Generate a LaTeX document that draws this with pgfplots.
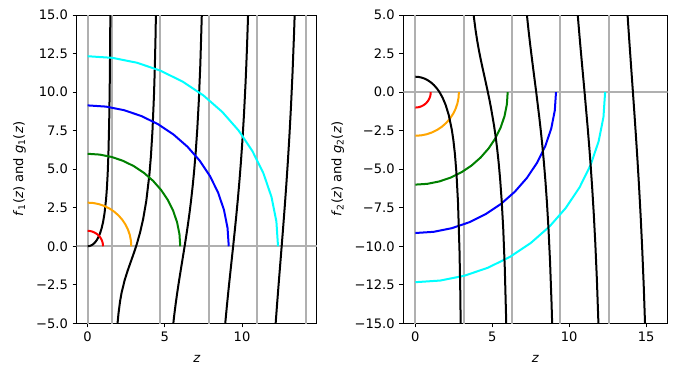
\documentclass[border=0pt]{standalone}
\usepackage{fontspec}
\setmainfont{DejaVu Sans}
\usepackage{pgfplots}
\pgfplotsset{compat=1.18}
\definecolor{gline}{RGB}{176,176,176}
\definecolor{mred}{RGB}{255,0,0}
\definecolor{morange}{RGB}{255,165,0}
\definecolor{mgreen}{RGB}{0,128,0}
\definecolor{mblue}{RGB}{0,0,255}
\definecolor{mcyan}{RGB}{0,255,255}
\pgfplotsset{
  myaxis/.style={
    scale only axis, anchor=south west,
    height=231.2pt,
    axis line style={line width=0.7pt},
    tick align=outside, xtick pos=bottom, ytick pos=left,
    major tick length=3pt,
    every tick/.style={black, line width=0.7pt},
    tick label style={font=\fontsize{9.8}{11}\selectfont},
    label style={font=\fontsize{9.8}{11}\selectfont},
    xlabel={\textit{z}},
    xlabel style={yshift=-3.5pt},
    ylabel style={yshift=1pt},
    every axis plot/.append style={line width=1.5pt},
    /pgf/number format/assume math mode=true,
  }
}
\begin{document}
\begin{tikzpicture}
\path[use as bounding box] (0,0) rectangle (507.75pt,282pt);
% ---------------- left panel
\begin{axis}[myaxis, at={(57.5pt,39.5pt)}, width=180.2pt,
  xmin=-0.707, xmax=14.85, ymin=-5, ymax=15,
  xtick={0,5,10}, xticklabels={0,5,10},
  ytick={-5,-2.5,0,2.5,5,7.5,10,12.5,15},
  yticklabels={−5.0,−2.5,0.0,2.5,5.0,7.5,10.0,12.5,15.0},
  ylabel={\textit{f}\textsubscript{1}(\textit{z}) and \textit{g}\textsubscript{1}(\textit{z})}]
\addplot[gline] coordinates {(0,-6) (0,16)};
\addplot[gline] coordinates {(1.570796,-6) (1.570796,16)};
\addplot[gline] coordinates {(4.712389,-6) (4.712389,16)};
\addplot[gline] coordinates {(7.853982,-6) (7.853982,16)};
\addplot[gline] coordinates {(10.995574,-6) (10.995574,16)};
\addplot[gline] coordinates {(14.137167,-6) (14.137167,16)};
\addplot[gline] coordinates {(-1,0) (16,0)};
% black: z tan z
\addplot[black] coordinates {(0,0) (0.1,0.01003) (0.2,0.04054) (0.3,0.0928) (0.4,0.16912) (0.5,0.27315) (0.6,0.41048) (0.7,0.5896) (0.8,0.82371) (0.9,1.13414) (1.0,1.55741) (1.1,2.16124) (1.2,3.08658) (1.25,3.76196) (1.3,4.68273) (1.35,6.01455) (1.4,8.11703) (1.43,10.089) (1.45,11.945) (1.47,14.534) (1.48,16.255)};
\addplot[black] coordinates {(1.85,-6.4529) (1.9,-5.5615) (1.95,-4.8935) (2.0,-4.37008) (2.1,-3.59068) (2.2,-3.0224) (2.4,-2.19843) (2.6,-1.56416) (2.8,-0.99548) (3.0,-0.42764) (3.14159,0) (3.2,0.18709) (3.4,0.89868) (3.6,1.77648) (3.8,2.93951) (4.0,4.63128) (4.1,5.83647) (4.2,7.46668) (4.3,9.82916) (4.35,11.4736) (4.4,13.6238) (4.45,16.5685)};
\addplot[black] coordinates {(5.4,-6.5748) (5.5,-5.4757) (5.6,-4.5581) (5.7,-3.7605) (5.8,-3.0431) (5.9,-2.3783) (6.0,-1.74604) (6.1,-1.1301) (6.2,-0.51694) (6.283185,0) (6.4,0.75104) (6.5,1.4318) (6.6,2.16387) (6.7,2.9665) (6.8,3.8647) (6.9,4.8928) (7.0,6.10014) (7.1,7.5607) (7.2,9.3932) (7.3,11.8009) (7.4,15.1642) (7.45,17.2658)};
\addplot[black] coordinates {(8.724778,-7.3488) (8.824778,-6.0374) (8.924778,-4.8756) (9.024778,-3.8156) (9.124778,-2.8226) (9.224778,-1.8700) (9.324778,-0.9356) (9.424778,0) (9.524778,0.95567) (9.624778,1.9510) (9.724778,3.0082) (9.824778,4.1538) (9.924778,5.4219) (10.024778,6.8583) (10.124778,8.5280) (10.224778,10.5278) (10.274778,11.6961) (10.324778,13.0108) (10.374778,14.5077) (10.424778,16.2356)};
\addplot[black] coordinates {(11.966371,-8.1866) (12.066371,-6.5919) (12.166371,-5.1439) (12.266371,-3.7944) (12.366371,-2.5068) (12.466371,-1.2508) (12.566371,0) (12.666371,1.2709) (12.766371,2.5879) (12.866371,3.9800) (12.966371,5.4821) (13.066371,7.1382) (13.166371,9.0076) (13.266371,11.1741) (13.366371,13.7625) (13.416371,15.2723) (13.466371,16.9697)};
% circles
\addplot[mred] coordinates {(1,0) (0.9914,0.1305) (0.9659,0.2588) (0.9239,0.3827) (0.8660,0.5) (0.7934,0.6088) (0.7071,0.7071) (0.6088,0.7934) (0.5,0.8660) (0.3827,0.9239) (0.2588,0.9659) (0.1305,0.9914) (0,1)};
\addplot[morange] coordinates {(2.83,0) (2.8058,0.3694) (2.7336,0.7325) (2.6146,1.0830) (2.4509,1.415) (2.2452,1.7228) (2.0011,2.0011) (1.7228,2.2452) (1.415,2.4509) (1.0830,2.6146) (0.7325,2.7336) (0.3694,2.8058) (0,2.83)};
\addplot[mgreen] coordinates {(6,0) (5.9487,0.7832) (5.7956,1.5529) (5.5433,2.2961) (5.1962,3) (4.7601,3.6526) (4.2426,4.2426) (3.6526,4.7601) (3,5.1962) (2.2961,5.5433) (1.5529,5.7956) (0.7832,5.9487) (0,6)};
\addplot[mblue] coordinates {(9.14,0) (9.0618,1.1930) (8.8286,2.3656) (8.4443,3.4977) (7.9155,4.57) (7.2512,5.5641) (6.4630,6.4630) (5.5641,7.2512) (4.57,7.9155) (3.4977,8.4443) (2.3656,8.8286) (1.1930,9.0618) (0,9.14)};
\addplot[mcyan] coordinates {(12.33,0) (12.2245,1.6094) (11.9099,3.1912) (11.3914,4.7185) (10.6781,6.165) (9.7820,7.5060) (8.7186,8.7186) (7.5060,9.7820) (6.165,10.6781) (4.7185,11.3914) (3.1912,11.9099) (1.6094,12.2245) (0,12.33)};
\end{axis}
% ---------------- right panel
\begin{axis}[myaxis, at={(302.5pt,39.5pt)}, width=198.3pt,
  xmin=-0.78, xmax=16.4, ymin=-15, ymax=5,
  xtick={0,5,10,15}, xticklabels={0,5,10,15},
  ytick={-15,-12.5,-10,-7.5,-5,-2.5,0,2.5,5},
  yticklabels={−15.0,−12.5,−10.0,−7.5,−5.0,−2.5,0.0,2.5,5.0},
  ylabel={\textit{f}\textsubscript{2}(\textit{z}) and \textit{g}\textsubscript{2}(\textit{z})}]
\addplot[gline] coordinates {(0,-16) (0,6)};
\addplot[gline] coordinates {(3.141593,-16) (3.141593,6)};
\addplot[gline] coordinates {(6.283185,-16) (6.283185,6)};
\addplot[gline] coordinates {(9.424778,-16) (9.424778,6)};
\addplot[gline] coordinates {(12.566371,-16) (12.566371,6)};
\addplot[gline] coordinates {(-1,0) (17,0)};
% circles
\addplot[mred] coordinates {(1,0) (0.9914,-0.1305) (0.9659,-0.2588) (0.9239,-0.3827) (0.8660,-0.5) (0.7934,-0.6088) (0.7071,-0.7071) (0.6088,-0.7934) (0.5,-0.8660) (0.3827,-0.9239) (0.2588,-0.9659) (0.1305,-0.9914) (0,-1)};
\addplot[morange] coordinates {(2.83,0) (2.8058,-0.3694) (2.7336,-0.7325) (2.6146,-1.0830) (2.4509,-1.415) (2.2452,-1.7228) (2.0011,-2.0011) (1.7228,-2.2452) (1.415,-2.4509) (1.0830,-2.6146) (0.7325,-2.7336) (0.3694,-2.8058) (0,-2.83)};
\addplot[mgreen] coordinates {(6,0) (5.9487,-0.7832) (5.7956,-1.5529) (5.5433,-2.2961) (5.1962,-3) (4.7601,-3.6526) (4.2426,-4.2426) (3.6526,-4.7601) (3,-5.1962) (2.2961,-5.5433) (1.5529,-5.7956) (0.7832,-5.9487) (0,-6)};
\addplot[mblue] coordinates {(9.14,0) (9.0618,-1.1930) (8.8286,-2.3656) (8.4443,-3.4977) (7.9155,-4.57) (7.2512,-5.5641) (6.4630,-6.4630) (5.5641,-7.2512) (4.57,-7.9155) (3.4977,-8.4443) (2.3656,-8.8286) (1.1930,-9.0618) (0,-9.14)};
\addplot[mcyan] coordinates {(12.33,0) (12.2245,-1.6094) (11.9099,-3.1912) (11.3914,-4.7185) (10.6781,-6.165) (9.7820,-7.5060) (8.7186,-8.7186) (7.5060,-9.7820) (6.165,-10.6781) (4.7185,-11.3914) (3.1912,-11.9099) (1.6094,-12.2245) (0,-12.33)};
% black: z cot z
\addplot[black] coordinates {(0,1) (0.2,0.98663) (0.4,0.94609) (0.6,0.87701) (0.8,0.77697) (1.0,0.64209) (1.2,0.46653) (1.4,0.24147) (1.570796,0) (1.770796,-0.35896) (1.970796,-0.83324) (2.170796,-1.48514) (2.370796,-2.44106) (2.470796,-3.1136) (2.570796,-4.00377) (2.670796,-5.2475) (2.770796,-7.1269) (2.870796,-10.3409) (2.920796,-13.0128) (2.970796,-17.2243)};
\addplot[black] coordinates {(3.712389,5.7817) (3.812389,4.8042) (3.912389,4.0284) (4.012389,3.3796) (4.112389,2.8134) (4.212389,2.3012) (4.312389,1.8232) (4.412389,1.3649) (4.512389,0.9147) (4.612389,0.4628) (4.712389,0) (4.812389,-0.4829) (4.912389,-0.9958) (5.112389,-2.1615) (5.212389,-2.8475) (5.312389,-3.6344) (5.412389,-4.5588) (5.512389,-5.6758) (5.612389,-7.0724) (5.712389,-8.8964) (5.812389,-11.4200) (5.912389,-15.2076) (5.962389,-17.9443)};
\addplot[black] coordinates {(7.153982,6.0257) (7.253982,4.9627) (7.353982,4.0175) (7.453982,3.1515) (7.553982,2.3367) (7.653982,1.5516) (7.853982,0) (8.053982,-1.6326) (8.153982,-2.5223) (8.253982,-3.4897) (8.353982,-4.5638) (8.453982,-5.7837) (8.553982,-7.2050) (8.653982,-8.9107) (8.753982,-11.0314) (8.853982,-13.7892) (8.903982,-15.5224) (8.953982,-17.5924)};
\addplot[black] coordinates {(10.495574,5.7337) (10.595574,4.4797) (10.695574,3.3085) (10.795574,2.1884) (10.995574,0) (11.195574,-2.2695) (11.295574,-3.4941) (11.395574,-4.8180) (11.495574,-6.2800) (11.595574,-7.9330) (11.695574,-9.8510) (11.795574,-12.1452) (11.895574,-14.9903) (11.945574,-16.7043)};
\addplot[black] coordinates {(13.737167,5.8080) (13.837167,4.2803) (13.937167,2.8252) (14.037167,1.4084) (14.137167,0) (14.237167,-1.4285) (14.337167,-2.9063) (14.437167,-4.4659) (14.537167,-6.1462) (14.637167,-7.9963) (14.737167,-10.0823) (14.837167,-12.4972) (14.937167,-15.3800) (14.987167,-17.0604)};
\end{axis}
\end{tikzpicture}
\end{document}
